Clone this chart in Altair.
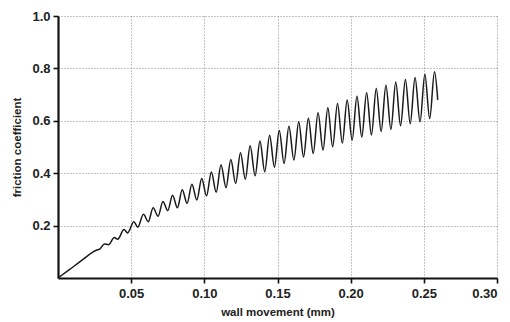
import altair as alt
import pandas as pd

# initial, nearly linear rise with tiny wiggles
x_start = [0.0, 0.008, 0.016, 0.0235, 0.0262, 0.0285, 0.0318, 0.0345]
y_start = [0.0, 0.033, 0.066, 0.098, 0.106, 0.110, 0.130, 0.127]

# oscillation peaks
x_peaks = [0.0385, 0.0451, 0.0518, 0.0584, 0.0650, 0.0717, 0.0783, 0.0849,
           0.0915, 0.0982, 0.1048, 0.1114, 0.1181, 0.1247, 0.1313, 0.1380,
           0.1446, 0.1512, 0.1578, 0.1645, 0.1711, 0.1777, 0.1844, 0.1910,
           0.1976, 0.2043, 0.2109, 0.2175, 0.2241, 0.2308, 0.2374, 0.2440,
           0.2507, 0.2573]
y_peaks = [0.155, 0.185, 0.215, 0.243, 0.268, 0.292, 0.316, 0.337,
           0.358, 0.380, 0.405, 0.432, 0.452, 0.478, 0.505, 0.523,
           0.545, 0.563, 0.579, 0.596, 0.610, 0.631, 0.650, 0.666,
           0.679, 0.694, 0.707, 0.723, 0.736, 0.748, 0.758, 0.765,
           0.778, 0.787]

# oscillation troughs
x_troughs = [0.0408, 0.0476, 0.0545, 0.0617, 0.0684, 0.0750, 0.0816, 0.0882,
             0.0949, 0.1015, 0.1081, 0.1148, 0.1214, 0.1280, 0.1347, 0.1413,
             0.1479, 0.1545, 0.1612, 0.1678, 0.1744, 0.1811, 0.1877, 0.1943,
             0.2010, 0.2076, 0.2142, 0.2208, 0.2275, 0.2341, 0.2407, 0.2474,
             0.2540]
y_troughs = [0.148, 0.172, 0.194, 0.215, 0.236, 0.257, 0.268, 0.285,
             0.298, 0.313, 0.327, 0.345, 0.361, 0.377, 0.390, 0.405,
             0.423, 0.437, 0.450, 0.462, 0.475, 0.488, 0.501, 0.515,
             0.526, 0.538, 0.546, 0.559, 0.567, 0.581, 0.589, 0.596,
             0.608]

x_end = [0.2595]
y_end = [0.680]

x_ticks = [0.05, 0.10, 0.15, 0.20, 0.25, 0.30]
y_ticks = [0.2, 0.4, 0.6, 0.8, 1.0]

xs = x_start + x_peaks + x_troughs + x_end
ys = y_start + y_peaks + y_troughs + y_end
df = pd.DataFrame({"x": xs, "y": ys}).sort_values("x").reset_index(drop=True)

font = "Liberation Sans"

line = alt.Chart(df).mark_line(
    color="#1a1a1a", strokeWidth=1.5, interpolate="monotone"
).encode(
    x=alt.X("x:Q",
            scale=alt.Scale(domain=[0, 0.30], nice=False, zero=True),
            axis=alt.Axis(values=x_ticks, format=".2f", title="wall movement (mm)",
                          grid=True, gridDash=[1, 2], gridColor="#888", gridWidth=1,
                          domainColor="#111", domainWidth=2.2,
                          tickColor="#111", tickWidth=1.6, tickSize=5,
                          labelFont=font, labelFontSize=13, labelFontWeight="bold",
                          labelColor="#222", labelPadding=4,
                          titleFont=font, titleFontSize=11.5, titleFontWeight="bold",
                          titleColor="#222", titlePadding=6)),
    y=alt.Y("y:Q",
            scale=alt.Scale(domain=[0, 1.0], nice=False),
            axis=alt.Axis(values=y_ticks, format=".1f", title="friction coefficient",
                          grid=True, gridDash=[1, 2], gridColor="#888", gridWidth=1,
                          domainColor="#111", domainWidth=2.2,
                          tickColor="#111", tickWidth=1.6, tickSize=5,
                          labelFont=font, labelFontSize=13, labelFontWeight="bold",
                          labelColor="#222", labelPadding=3,
                          titleFont=font, titleFontSize=11.5, titleFontWeight="bold",
                          titleColor="#222", titlePadding=9)),
)

chart = line.properties(
    width=439, height=262,
    autosize=alt.AutoSizeParams(type="none"),
    padding={"left": 50, "top": 8, "right": 5, "bottom": 44},
    background="white",
).configure_view(stroke=None)

chart.save("out.html", embed_options={"renderer": "svg", "actions": False})
